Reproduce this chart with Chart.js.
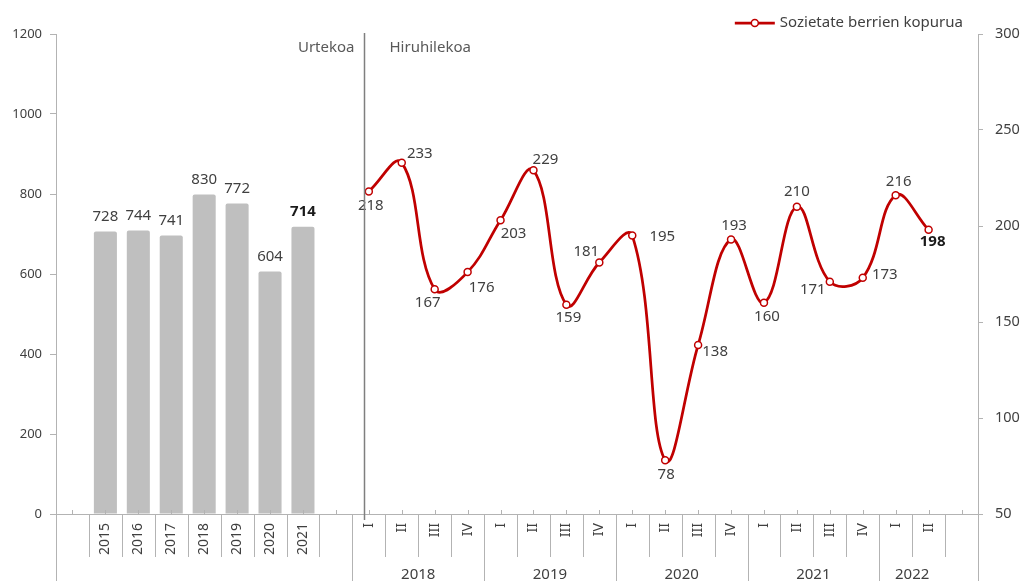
<!DOCTYPE html>
<html lang="eu">
<head>
<meta charset="UTF-8">
<title>Sozietate berrien kopurua</title>
<script src="https://cdn.jsdelivr.net/npm/chart.js"></script>
<style>
  html, body { margin: 0; padding: 0; background: #fff; }
  #wrap { width: 1023px; height: 581px; }
</style>
</head>
<body>
<div id="wrap"><canvas id="chart"></canvas></div>
<script>
// categories: one empty slot, the years, one empty slot, the quarters, one empty slot
const categories = ['', '2015', '2016', '2017', '2018', '2019', '2020', '2021', '',
  'I', 'II', 'III', 'IV', 'I', 'II', 'III', 'IV', 'I', 'II', 'III', 'IV',
  'I', 'II', 'III', 'IV', 'I', 'II', ''];
const quarterYears = ['2018', '2019', '2020', '2021', '2022'];

// yearly bars (height as drawn) and the figure printed over each bar
const annualBars = [706, 709, 696, 799, 776, 606, 718];
const annualLabels = ['728', '744', '741', '830', '772', '604', '714'];

// quarterly line, 2018 I .. 2022 II
const quarterly = [218, 233, 167, 176, 203, 229, 159, 181, 195, 78, 138, 193, 160, 210, 171, 173, 216, 198];

const leftTicks = [0, 200, 400, 600, 800, 1000, 1200];
const rightTicks = [50, 100, 150, 200, 250, 300];

const FIRST_BAR = 1;
const FIRST_QUARTER = 9;

// where each quarterly label sits relative to its point
const labelOffsets = [[2, 14], [18, -9], [-7, 13], [14, 16], [13, 13], [12, -11], [2, 13], [-13, -11],
  [30, 1], [1, 14], [17, 7], [3, -14], [3, 14], [0, -15], [-17, 8], [22, -3], [3, -14], [4, 12]];

const barData = categories.map(() => null);
annualBars.forEach((v, i) => { barData[FIRST_BAR + i] = v; });
const lineData = categories.map(() => null);
quarterly.forEach((v, i) => { lineData[FIRST_QUARTER + i] = v; });

const RED = '#C00000';
const AXIS = '#B3B3B3';
const TEXT = '#404040';
const FONT = '"Noto Sans", sans-serif';

Chart.defaults.font.family = FONT;
Chart.defaults.color = TEXT;

function line(ctx, x1, y1, x2, y2) {
  ctx.beginPath();
  ctx.moveTo(x1, y1);
  ctx.lineTo(x2, y2);
  ctx.stroke();
}

const decor = {
  id: 'decor',
  afterDatasetsDraw(chart) {
    const ctx = chart.ctx;
    ctx.save();
    ctx.textAlign = 'center';
    ctx.textBaseline = 'middle';

    const barMeta = chart.getDatasetMeta(0);
    annualLabels.forEach((t, i) => {
      const el = barMeta.data[FIRST_BAR + i];
      const last = i === annualLabels.length - 1;
      ctx.font = (last ? 'bold ' : '') + '15px ' + FONT;
      ctx.fillStyle = last ? '#1a1a1a' : TEXT;
      ctx.fillText(t, el.x, el.y - 15);
    });

    const lineMeta = chart.getDatasetMeta(1);
    quarterly.forEach((v, i) => {
      const el = lineMeta.data[FIRST_QUARTER + i];
      const last = i === quarterly.length - 1;
      ctx.font = (last ? 'bold ' : '') + '15px ' + FONT;
      ctx.fillStyle = last ? '#1a1a1a' : TEXT;
      ctx.fillText(String(v), el.x + labelOffsets[i][0], el.y + labelOffsets[i][1]);
    });
    ctx.restore();
  },
  afterDraw(chart) {
    const ctx = chart.ctx;
    const x = chart.scales.x;
    const area = chart.chartArea;
    const base = area.bottom;
    ctx.save();

    // x axis: small ticks at category centres, separators between categories
    ctx.strokeStyle = AXIS;
    ctx.lineWidth = 1;
    for (let i = 0; i < categories.length; i++) {
      const px = Math.round(x.getPixelForValue(i)) + 0.5;
      line(ctx, px, base, px, base - 4);
    }
    const longAt = [0, FIRST_QUARTER, 13, 17, 21, 25, categories.length];
    for (let i = 0; i <= categories.length; i++) {
      const px = Math.round(x.getPixelForValue(i - 0.5)) + 0.5;
      line(ctx, px, base, px, longAt.includes(i) ? chart.height : base + 43);
    }

    // year under the quarters
    ctx.fillStyle = TEXT;
    ctx.font = '15px ' + FONT;
    ctx.textAlign = 'center';
    ctx.textBaseline = 'middle';
    quarterYears.forEach((yr, g) => {
      const s = FIRST_QUARTER + g * 4;
      const e = Math.min(s + 3, categories.length - 2);
      ctx.fillText(yr, (x.getPixelForValue(s) + x.getPixelForValue(e)) / 2, chart.height - 6);
    });

    // separator between yearly and quarterly parts
    const sx = Math.round(x.getPixelForValue(FIRST_QUARTER - 0.15)) + 0.5;
    ctx.strokeStyle = '#7F7F7F';
    ctx.lineWidth = 1.5;
    line(ctx, sx, area.top - 1, sx, base + 6);

    ctx.fillStyle = '#595959';
    ctx.font = '15px ' + FONT;
    ctx.textAlign = 'right';
    ctx.fillText('Urtekoa', sx - 10, area.top + 14);
    ctx.textAlign = 'left';
    ctx.fillText('Hiruhilekoa', sx + 25, area.top + 14);

    // legend
    const lx = area.right - 15;
    const ly = 23;
    ctx.font = '15px ' + FONT;
    ctx.textAlign = 'right';
    ctx.fillStyle = TEXT;
    const label = 'Sozietate berrien kopurua';
    ctx.fillText(label, lx, ly);
    const tx = lx - ctx.measureText(label).width - 5;
    ctx.strokeStyle = RED;
    ctx.lineWidth = 2.75;
    line(ctx, tx - 40, ly, tx, ly);
    ctx.beginPath();
    ctx.arc(tx - 20, ly, 3.5, 0, Math.PI * 2);
    ctx.fillStyle = '#fff';
    ctx.fill();
    ctx.lineWidth = 1.5;
    ctx.stroke();

    ctx.restore();
  }
};

new Chart(document.getElementById('chart'), {
  type: 'bar',
  data: {
    labels: categories,
    datasets: [{
      type: 'bar',
      label: 'Urtekoa',
      data: barData,
      yAxisID: 'y',
      backgroundColor: '#BFBFBF',
      borderRadius: 2,
      barPercentage: 0.7,
      categoryPercentage: 1,
      order: 2
    }, {
      type: 'line',
      label: 'Sozietate berrien kopurua',
      data: lineData,
      yAxisID: 'y1',
      borderColor: RED,
      borderWidth: 2.75,
      tension: 0.4,
      pointRadius: 3.5,
      pointBorderWidth: 1.5,
      pointBackgroundColor: '#fff',
      pointBorderColor: RED,
      order: 1
    }]
  },
  options: {
    responsive: true,
    maintainAspectRatio: false,
    animation: false,
    layout: { padding: { top: 34, left: 0, right: 0, bottom: 0 } },
    plugins: {
      legend: { display: false },
      tooltip: { enabled: false }
    },
    scales: {
      x: {
        offset: true,
        grid: { display: false, drawTicks: false },
        border: { display: true, color: AXIS },
        ticks: {
          autoSkip: false,
          maxRotation: 90,
          minRotation: 90,
          padding: 9,
          color: TEXT,
          font: { size: 14 }
        },
        afterFit(scale) { scale.height = 67; }
      },
      y: {
        position: 'left',
        min: 0,
        max: 1200,
        afterBuildTicks(scale) { scale.ticks = leftTicks.map(v => ({ value: v })); },
        grid: { drawOnChartArea: false, tickLength: 6, color: AXIS },
        border: { color: AXIS },
        ticks: { padding: 8, color: TEXT, font: { size: 13 }, callback: v => String(v) },
        afterFit(scale) { scale.width = 56; }
      },
      y1: {
        position: 'right',
        min: 50,
        max: 300,
        afterBuildTicks(scale) { scale.ticks = rightTicks.map(v => ({ value: v })); },
        grid: { drawOnChartArea: false, tickLength: 5, color: AXIS },
        border: { color: AXIS },
        ticks: { padding: 12, color: TEXT, font: { size: 14.5 }, callback: v => String(v) },
        afterFit(scale) { scale.width = 45; }
      }
    }
  },
  plugins: [decor]
});
</script>
</body>
</html>
